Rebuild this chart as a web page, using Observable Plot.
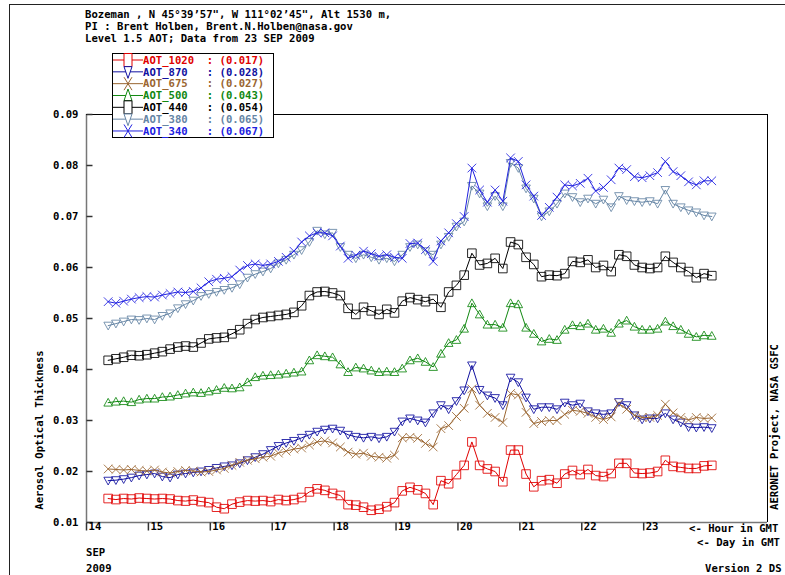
<!DOCTYPE html>
<html><head><meta charset="utf-8">
<script src="https://cdn.jsdelivr.net/npm/d3@7"></script>
<script src="https://cdn.jsdelivr.net/npm/@observablehq/plot@0.6"></script>
<style>
html,body{margin:0;padding:0;background:#fff;overflow:hidden;}
#chart{width:785px;height:575px;position:relative;}
</style></head><body><div id="chart"></div>
<script>
const hours = [14.35,14.475,14.6,14.725,14.85,14.975,15.1,15.225,15.35,15.475,
15.6,15.725,15.85,15.975,16.1,16.225,16.35,16.475,16.6,16.725,
16.85,16.975,17.1,17.225,17.35,17.475,17.6,17.725,17.85,17.975,
18.1,18.225,18.35,18.475,18.6,18.725,18.85,18.975,19.1,19.225,
19.35,19.475,19.6,19.725,19.85,19.975,20.1,20.225,20.35,20.475,
20.6,20.725,20.85,20.975,21.1,21.225,21.35,21.475,21.6,21.725,
21.85,21.975,22.1,22.225,22.35,22.475,22.6,22.725,22.85,22.975,
23.1,23.225,23.35,23.475,23.6,23.725,23.85,23.975,24.1];

const aot1020 = [0.0147,0.0145,0.0147,0.0146,0.0148,0.0147,0.0146,0.0147,0.0146,0.0143,
0.0142,0.0144,0.0141,0.0139,0.0130,0.0127,0.0136,0.0140,0.0143,0.0142,
0.0143,0.0141,0.0145,0.0143,0.0145,0.0149,0.0160,0.0166,0.0163,0.0157,
0.0153,0.0135,0.0134,0.0130,0.0124,0.0126,0.0131,0.0139,0.0162,0.0169,
0.0164,0.0157,0.0135,0.0182,0.0176,0.0194,0.0212,0.0258,0.0212,0.0205,
0.0200,0.0180,0.0242,0.0242,0.0195,0.0170,0.0182,0.0184,0.0177,0.0195,
0.0202,0.0194,0.0204,0.0192,0.0190,0.0196,0.0216,0.0216,0.0197,0.0196,
0.0197,0.0200,0.0222,0.0210,0.0208,0.0206,0.0206,0.0211,0.0212];

const aot870 = [0.0182,0.0183,0.0185,0.0188,0.0192,0.0194,0.0196,0.0190,0.0188,0.0194,
0.0196,0.0198,0.0200,0.0203,0.0207,0.0210,0.0212,0.0216,0.0222,0.0228,
0.0234,0.0242,0.0250,0.0256,0.0260,0.0266,0.0272,0.0278,0.0282,0.0284,
0.0280,0.0272,0.0268,0.0266,0.0268,0.0265,0.0268,0.0278,0.0298,0.0304,
0.0300,0.0296,0.0314,0.0330,0.0322,0.0338,0.0359,0.0408,0.0360,0.0349,
0.0344,0.0330,0.0384,0.0375,0.0345,0.0322,0.0326,0.0326,0.0322,0.0335,
0.0330,0.0333,0.0318,0.0314,0.0312,0.0314,0.0336,0.0330,0.0310,0.0302,
0.0304,0.0304,0.0314,0.0302,0.0296,0.0287,0.0286,0.0287,0.0285];

const aot675 = [0.0205,0.0204,0.0203,0.0204,0.0202,0.0201,0.0203,0.0199,0.0197,0.0200,
0.0202,0.0201,0.0199,0.0200,0.0203,0.0206,0.0212,0.0218,0.0222,0.0225,
0.0228,0.0230,0.0236,0.0240,0.0244,0.0246,0.0252,0.0258,0.0260,0.0256,
0.0248,0.0238,0.0234,0.0236,0.0230,0.0228,0.0226,0.0232,0.0266,0.0267,
0.0265,0.0255,0.0248,0.0284,0.0290,0.0308,0.0324,0.0362,0.0330,0.0314,
0.0306,0.0296,0.0353,0.0350,0.0316,0.0294,0.0298,0.0300,0.0300,0.0312,
0.0320,0.0318,0.0314,0.0306,0.0302,0.0307,0.0333,0.0322,0.0310,0.0306,
0.0306,0.0310,0.0332,0.0315,0.0306,0.0301,0.0306,0.0304,0.0305];

const aot500 = [0.0335,0.0337,0.0338,0.0336,0.0341,0.0343,0.0343,0.0346,0.0347,0.0350,
0.0353,0.0355,0.0354,0.0357,0.0360,0.0364,0.0363,0.0365,0.0375,0.0385,
0.0388,0.0389,0.0390,0.0392,0.0394,0.0396,0.0418,0.0428,0.0426,0.0424,
0.0410,0.0395,0.0404,0.0402,0.0398,0.0395,0.0396,0.0395,0.0402,0.0418,
0.0422,0.0415,0.0405,0.0431,0.0452,0.0458,0.0480,0.0530,0.0508,0.0488,
0.0488,0.0482,0.0530,0.0528,0.0482,0.0470,0.0455,0.0460,0.0458,0.0478,
0.0487,0.0485,0.0490,0.0478,0.0480,0.0472,0.0490,0.0496,0.0484,0.0478,
0.0478,0.0480,0.0494,0.0485,0.0478,0.0470,0.0464,0.0467,0.0466];

const aot440 = [0.0418,0.0421,0.0424,0.0428,0.0427,0.0429,0.0432,0.0435,0.0440,0.0444,
0.0446,0.0444,0.0452,0.0460,0.0462,0.0463,0.0470,0.0478,0.0490,0.0498,
0.0502,0.0504,0.0506,0.0508,0.0512,0.0525,0.0545,0.0552,0.0553,0.0550,
0.0545,0.0520,0.0508,0.0522,0.0515,0.0508,0.0518,0.0511,0.0534,0.0541,
0.0537,0.0533,0.0538,0.0522,0.0552,0.0565,0.0585,0.0628,0.0605,0.0608,
0.0618,0.0598,0.0650,0.0645,0.0620,0.0606,0.0582,0.0585,0.0584,0.0588,
0.0612,0.0610,0.0615,0.0600,0.0604,0.0592,0.0625,0.0622,0.0605,0.0600,
0.0598,0.0600,0.0622,0.0610,0.0600,0.0592,0.0580,0.0588,0.0584];

const aot380 = [0.0486,0.0490,0.0494,0.0498,0.0497,0.0500,0.0498,0.0505,0.0510,0.0520,
0.0528,0.0535,0.0544,0.0548,0.0552,0.0556,0.0560,0.0567,0.0580,0.0587,
0.0592,0.0598,0.0608,0.0615,0.0625,0.0634,0.0650,0.0672,0.0665,0.0668,
0.0640,0.0625,0.0618,0.0625,0.0620,0.0615,0.0618,0.0612,0.0625,0.0640,
0.0645,0.0632,0.0625,0.0645,0.0660,0.0680,0.0690,0.0760,0.0745,0.0720,
0.0740,0.0720,0.0805,0.0795,0.0755,0.0735,0.0700,0.0710,0.0725,0.0745,
0.0738,0.0728,0.0735,0.0725,0.0733,0.0718,0.0740,0.0732,0.0730,0.0728,
0.0730,0.0725,0.0752,0.0725,0.0718,0.0712,0.0708,0.0702,0.0700];

const aot340 = [0.0533,0.0530,0.0534,0.0538,0.0541,0.0543,0.0542,0.0546,0.0549,0.0552,
0.0551,0.0553,0.0560,0.0572,0.0577,0.0579,0.0582,0.0595,0.0604,0.0607,
0.0604,0.0607,0.0612,0.0620,0.0632,0.0650,0.0662,0.0668,0.0668,0.0662,
0.0642,0.0618,0.0624,0.0632,0.0627,0.0622,0.0625,0.0620,0.0618,0.0647,
0.0648,0.0635,0.0612,0.0652,0.0668,0.0686,0.0700,0.0795,0.0752,0.0728,
0.0752,0.0730,0.0815,0.0808,0.0762,0.0740,0.0702,0.0718,0.0738,0.0762,
0.0760,0.0765,0.0775,0.0750,0.0757,0.0772,0.0795,0.0792,0.0778,0.0776,
0.0780,0.0786,0.0808,0.0788,0.0780,0.0768,0.0762,0.0770,0.0770];

const seriesNames = ["AOT_1020","AOT_870","AOT_675","AOT_500","AOT_440","AOT_380","AOT_340"];
const seriesMeans = ["0.017","0.028","0.027","0.043","0.054","0.065","0.067"];
const seriesColors = ["#e00000","#1010a0","#9a6530","#118811","#000000","#6585a5","#2020e0"];
const seriesShapes = ["square","tridown","cross","triup","square","tridown","cross"];
const seriesValues = [aot1020, aot870, aot675, aot500, aot440, aot380, aot340];

const yTicks = [0.01,0.02,0.03,0.04,0.05,0.06,0.07,0.08,0.09];
const xTicks = [14,15,16,17,18,19,20,21,22,23];

const titleLines = ["Bozeman , N 45\u00b039\u201957\", W 111\u00b002\u201945\", Alt 1530 m,",
  "PI : Brent Holben, Brent.N.Holben@nasa.gov",
  "Level 1.5 AOT; Data from 23 SEP 2009"];

function drawShape(ctx, kind, w, h) {
  if (kind === "square") { ctx.moveTo(-w,-h); ctx.lineTo(w,-h); ctx.lineTo(w,h); ctx.lineTo(-w,h); ctx.closePath(); }
  else if (kind === "triup") { ctx.moveTo(0,-h); ctx.lineTo(w,h*0.8); ctx.lineTo(-w,h*0.8); ctx.closePath(); }
  else if (kind === "tridown") { ctx.moveTo(-w,-h*0.8); ctx.lineTo(w,-h*0.8); ctx.lineTo(0,h); ctx.closePath(); }
  else if (kind === "cross") { ctx.moveTo(-w,-h); ctx.lineTo(w,h); ctx.moveTo(w,-h); ctx.lineTo(-w,h); }
}
function sym(kind) {
  return {draw(ctx, size) { const r = Math.sqrt(size / Math.PI); drawShape(ctx, kind, r, r); }};
}
const tickRight = {draw(ctx) { ctx.moveTo(0,0); ctx.lineTo(6,0); }};
const tickDown = {draw(ctx) { ctx.moveTo(0,0); ctx.lineTo(0,8); }};

const marks = [];
seriesValues.forEach((vals, k) => {
  const rows = hours.map((t, i) => ({t, v: vals[i]}));
  marks.push(Plot.line(rows, {x: "t", y: "v", stroke: seriesColors[k], strokeWidth: 1}));
  marks.push(Plot.dot(rows, {x: "t", y: "v", symbol: sym(seriesShapes[k]), r: 4.3, fill: "none",
    stroke: seriesColors[k], strokeWidth: 1, strokeOpacity: 0.85}));
});

const plot = Plot.plot({
  width: 785, height: 575,
  marginLeft: 86, marginRight: 18, marginTop: 114, marginBottom: 53,
  x: {domain: [14, 25], axis: null},
  y: {domain: [0.01, 0.09], axis: null},
  style: {fontFamily: "'DejaVu Sans Mono', monospace", fontSize: "10.6px", fontWeight: "bold", background: "#fff", color: "#000"},
  marks: [
    Plot.ruleX([14], {stroke: "#777", strokeWidth: 1.5}),
    Plot.ruleY([0.01], {stroke: "#777", strokeWidth: 1.5}),
    Plot.ruleY([0.09], {stroke: "#000"}),
    Plot.ruleX([25], {stroke: "#000"}),
    Plot.dot(yTicks, {y: d => d, frameAnchor: "left", symbol: tickRight, stroke: "#333", r: 4}),
    Plot.text(yTicks, {y: d => d, frameAnchor: "left", text: d => d.toFixed(2), textAnchor: "end", dx: -8, fill: "#000"}),
    Plot.dot(xTicks, {x: d => d, frameAnchor: "bottom", symbol: tickDown, stroke: "#333", r: 4}),
    Plot.text(xTicks, {x: d => d, frameAnchor: "bottom", text: d => String(d), textAnchor: "start", dx: 2, dy: 7, fill: "#000"}),
    ...marks
  ]
});
document.getElementById("chart").appendChild(plot);

const svg = d3.select(plot);
// outer border
svg.append("rect").attr("x", 9.5).attr("y", 4.5).attr("width", 820).attr("height", 620)
  .attr("fill", "none").attr("stroke", "#222").attr("stroke-width", 1);

const fontAttrs = sel => sel.attr("font-family", "'DejaVu Sans Mono', monospace").attr("font-size", "10.6px")
  .attr("font-weight", "bold").attr("text-anchor", "start");

titleLines.forEach((s, i) => {
  svg.append("text").call(fontAttrs).attr("x", 85).attr("y", 14 + 12 * i).attr("dy", "0.35em").attr("fill", "#000").attr("xml:space", "preserve").text(s);
});

// legend
const lg = svg.append("g");
lg.append("rect").attr("x", 112.5).attr("y", 53.5).attr("width", 161).attr("height", 84)
  .attr("fill", "#fff").attr("stroke", "#000");
seriesNames.forEach((name, k) => {
  const y = 60 + 11.83 * k;
  const c = seriesColors[k];
  lg.append("line").attr("x1", 113).attr("x2", 143).attr("y1", y).attr("y2", y).attr("stroke", c);
  const p = d3.path();
  drawShape(p, seriesShapes[k], 4, 6.5);
  lg.append("path").attr("d", p.toString()).attr("transform", `translate(128,${y})`).attr("fill", seriesShapes[k] === "cross" ? "none" : "#fff").attr("stroke", c);
  const label = name.padEnd(10, " ") + ": (" + seriesMeans[k] + ")";
  lg.append("text").call(fontAttrs).attr("x", 143).attr("y", y).attr("dy", "0.35em").attr("fill", c)
    .attr("xml:space", "preserve").style("white-space", "pre").text(label);
});

// axis titles and notes
svg.append("text").call(fontAttrs).attr("transform", "translate(39,430) rotate(-90)").attr("text-anchor", "middle").attr("dy", "0.35em").attr("fill", "#000").text("Aerosol Optical Thickness");
svg.append("text").call(fontAttrs).attr("transform", "translate(774,427) rotate(-90)").attr("text-anchor", "middle").attr("dy", "0.35em").attr("fill", "#000").text("AERONET Project, NASA GSFC");
svg.append("text").call(fontAttrs).attr("x", 689).attr("y", 528).attr("dy", "0.35em").attr("fill", "#000").text("<- Hour in GMT");
svg.append("text").call(fontAttrs).attr("x", 697).attr("y", 542).attr("dy", "0.35em").attr("fill", "#000").text("<- Day in GMT");
svg.append("text").call(fontAttrs).attr("x", 86).attr("y", 552).attr("dy", "0.35em").attr("fill", "#000").text("SEP");
svg.append("text").call(fontAttrs).attr("x", 86).attr("y", 568).attr("dy", "0.35em").attr("fill", "#000").text("2009");
svg.append("text").call(fontAttrs).attr("x", 705).attr("y", 568).attr("dy", "0.35em").attr("fill", "#000").text("Version 2 DS");
</script></body></html>
